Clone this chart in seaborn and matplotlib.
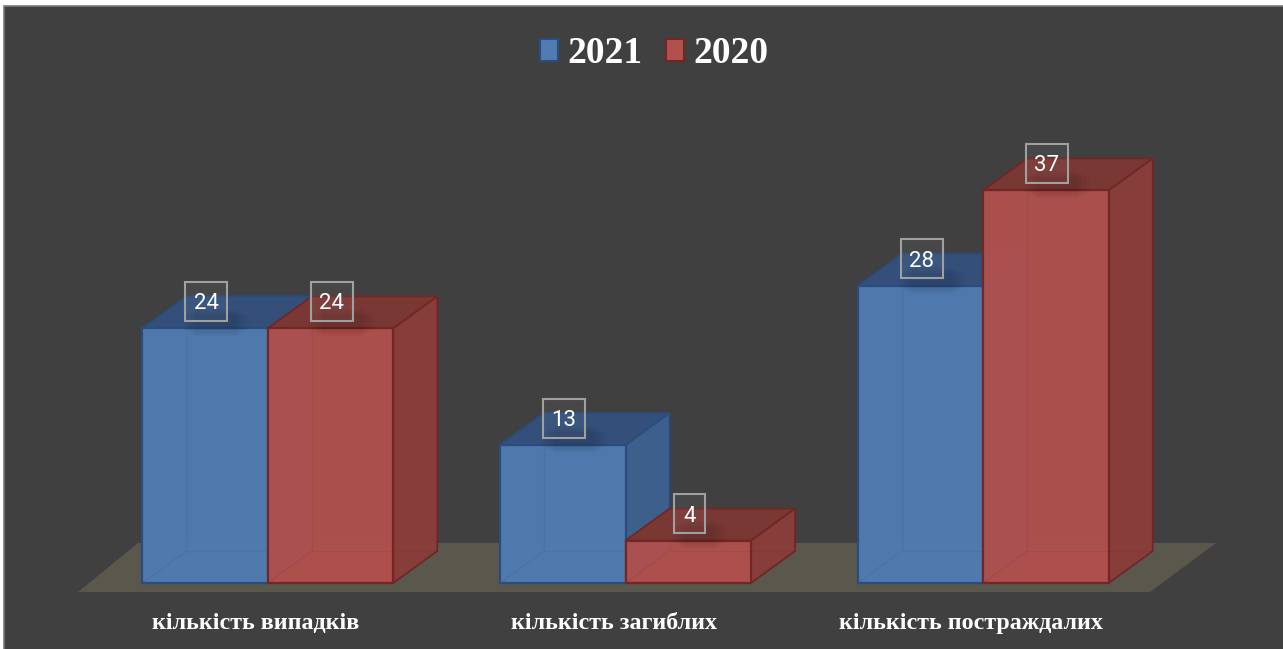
import numpy as np
import pandas as pd
import seaborn as sns
import matplotlib
matplotlib.use("Agg")
import matplotlib.pyplot as plt
from matplotlib.patches import Polygon, Rectangle
from matplotlib.transforms import ScaledTranslation

categories = ["кількість випадків", "кількість загиблих", "кількість постраждалих"]
years = ["2021", "2020"]
values_2021 = [24, 13, 28]
values_2020 = [24, 4, 37]

W, H = 1283, 649
BASE_PX = 583
PX_PER_UNIT = 10.61
GROUP_PX = 357.75
FIRST_PX = 267.8
DX, DY = 44, 32   # depth of the pseudo-3D in px
BG = "#404040"
FRONT = {"2021": "#507cb3", "2020": "#b2504d"}
EDGE = {"2021": "#2b4c7e", "2020": "#702725"}
TOP = {"2021": "#34507a", "2020": "#7a3835"}
SIDE = {"2021": "#3c5f8c", "2020": "#873d3a"}

df = pd.DataFrame({
    "category": categories * 2,
    "year": [years[0]] * 3 + [years[1]] * 3,
    "value": values_2021 + values_2020,
})

sns.set_theme(style="white")
plt.rcParams["font.family"] = ["Liberation Serif", "DejaVu Serif"]
fig = plt.figure(figsize=(W / 100, H / 100), dpi=100, facecolor="white")
# dark panel
fig.add_artist(Rectangle((4 / W, -0.02), 1, 1.02 - 6 / H, transform=fig.transFigure,
                         facecolor=BG, edgecolor="#7a7a7a", lw=1.2, zorder=-5))

ax = fig.add_axes([0, (H - BASE_PX) / H, 1, BASE_PX / H])
ax.patch.set_alpha(0)

sns.barplot(data=df, x="category", y="value", hue="year", order=categories, hue_order=years,
            palette=FRONT, width=251 / GROUP_PX, gap=0, saturation=1, alpha=0.95,
            edgecolor="none", errorbar=None, ax=ax, zorder=5)

ax.set_xlim(-FIRST_PX / GROUP_PX, (W - FIRST_PX) / GROUP_PX)
ax.set_ylim(0, BASE_PX / PX_PER_UNIT)
ddx, ddy = DX / GROUP_PX, DY / PX_PER_UNIT

# floor
x0, x1 = ax.get_xlim()
fl = [(x0 + 78 / GROUP_PX, -9 / PX_PER_UNIT), (x0 + 1150 / GROUP_PX, -9 / PX_PER_UNIT),
      (x0 + 1216 / GROUP_PX, 40 / PX_PER_UNIT), (x0 + 138 / GROUP_PX, 40 / PX_PER_UNIT)]
ax.add_patch(Polygon(fl, closed=True, facecolor="#5a574c", edgecolor="none", zorder=1, clip_on=False))

bars = [p for c in ax.containers for p in c]
series = [years[0]] * 3 + [years[1]] * 3
for i, (bar, yr) in enumerate(zip(bars, series)):
    x, w, h = bar.get_x(), bar.get_width(), bar.get_height()
    z = 2 if yr == "2021" else 5.6
    ec = EDGE[yr]
    # top and side faces from the bar geometry
    ax.add_patch(Polygon([(x, h), (x + w, h), (x + w + ddx, h + ddy), (x + ddx, h + ddy)],
                         facecolor=TOP[yr], edgecolor=ec, lw=1.3, zorder=z))
    ax.add_patch(Polygon([(x + w, 0), (x + w + ddx, ddy), (x + w + ddx, h + ddy), (x + w, h)],
                         facecolor=SIDE[yr], edgecolor=ec, lw=1.3, zorder=z))
    # front outline
    bar.set_zorder(5 if yr == "2021" else 6)
    ax.add_patch(Rectangle((x, 0), w, h, facecolor="none", edgecolor=ec, lw=1.6,
                           zorder=7 if yr == "2020" else 5.5, clip_on=False))
    # faint back edges visible through the front
    ax.plot([x + ddx, x + ddx, x + w + ddx], [h, ddy, ddy], color=ec, alpha=0.12, lw=1.0,
            zorder=7.5 if yr == "2020" else 5.4)
    ax.plot([x, x + ddx], [0, ddy], color=ec, alpha=0.12, lw=1.0,
            zorder=7.5 if yr == "2020" else 5.4)

    # value label
    cx = x + w / 2 + 1 / GROUP_PX
    cy = h + 27 / PX_PER_UNIT
    bw = (42 if h >= 10 else 31) / GROUP_PX
    bh = 39 / PX_PER_UNIT
    # soft shadow cast by the label box
    for grow in (0, 4, 8, 12):
        sw = bw + 2 * grow / GROUP_PX
        ax.add_patch(Rectangle((cx - sw / 2 + 10 / GROUP_PX, h - (8 - grow / 2) / PX_PER_UNIT),
                               sw, (bh * 0.7) - grow / PX_PER_UNIT, facecolor=(0, 0, 0, 0.03),
                               edgecolor="none", zorder=8))
    ax.add_patch(Rectangle((cx - bw / 2, cy - bh / 2), bw, bh, facecolor=(1, 1, 1, 0.04),
                           edgecolor="#a0a0a0", lw=1.5, zorder=9))
    ax.text(cx, cy, f"{int(h)}", color="white", fontsize=16, family="Roboto",
            ha="center", va="center_baseline", zorder=10)

# legend
handles, labels = ax.get_legend_handles_labels()
for hd, yr in zip(handles, labels):
    hd.set_edgecolor(EDGE[yr]); hd.set_linewidth(1.5); hd.set_alpha(1)
leg = ax.legend(handles, labels, loc="center", bbox_to_anchor=(654 / W, 1 - 53.5 / BASE_PX),
                ncol=2, frameon=False, handlelength=0.5, handleheight=0.53, handletextpad=0.24,
                columnspacing=0.62, prop={"family": "Liberation Serif", "weight": "bold", "size": 27},
                labelcolor="white", borderpad=0, borderaxespad=0)

# axes
for s in ax.spines.values():
    s.set_visible(False)
ax.set_xlabel(""); ax.set_ylabel("")
ax.set_yticks([])
ax.tick_params(axis="x", length=0, pad=21.5)
shift = ScaledTranslation(-12 / 100, 0, fig.dpi_scale_trans)
for lab in ax.get_xticklabels():
    lab.set_color("white"); lab.set_fontweight("bold"); lab.set_fontsize(17.3)
    lab.set_family("Liberation Serif")
    lab.set_transform(lab.get_transform() + shift)

fig.savefig("out.png", dpi=100, facecolor="white")
